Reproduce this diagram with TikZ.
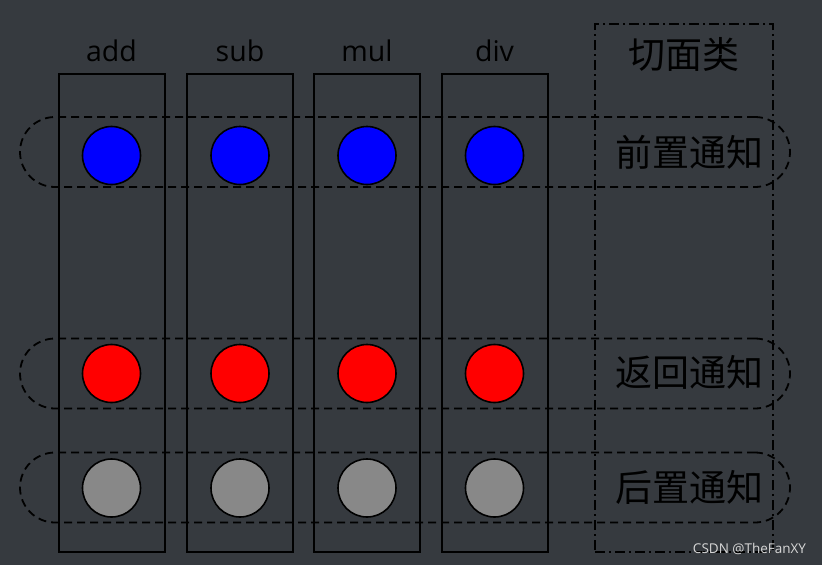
\documentclass[tikz,border=0pt]{standalone}
\usepackage{fontspec}
\setmainfont{Open Sans}
\newfontfamily\cjk{Noto Sans CJK SC}
\definecolor{bgcol}{RGB}{54,58,63}
\definecolor{dotgray}{RGB}{136,136,136}
\definecolor{markcol}{RGB}{215,215,215}
\tikzset{
	column/.style={draw=black,line width=2pt,minimum width=106pt,minimum height=478pt,inner sep=0pt},
	band/.style={draw=black,line width=1.8pt,dash pattern=on 8pt off 5pt,rounded corners=35pt,minimum width=770pt,minimum height=70pt,inner sep=0pt},
	joinpt/.style={circle,draw=black,line width=1.6pt,minimum size=58pt,inner sep=0pt},
	colname/.style={anchor=base,font=\fontsize{28.5}{28.5}\selectfont},
	advname/.style={font=\cjk\fontsize{37}{37}\selectfont}
}
\begin{document}
\begin{tikzpicture}[x=1pt,y=-1pt]
		\useasboundingbox[fill=bgcol] (0,0) rectangle (822,565);
		% aspect class
		\node[draw=black,line width=1.8pt,dash pattern=on 10pt off 4pt on 2pt off 4pt,minimum width=178pt,minimum height=528pt,inner sep=0pt] (aspect) at (684,288) {};
		\node[advname] (aspectname) at (684,54) {切面类};
		% target methods
		\foreach \name/\x in {add/111.5,sub/240,mul/367,div/494.5} {
			\node[column] (col-\name) at (\x,313) {};
			\node[colname] (lbl-\name) at (\x,61) {\name};
			\node[joinpt,fill=blue] (before-\name) at (\x,155.5) {};
			\node[joinpt,fill=red] (return-\name) at (\x,373.5) {};
			\node[joinpt,fill=dotgray] (after-\name) at (\x,488) {};
		}
		% advices
		\node[band] (before) at (405,152) {};
		\node[band] (return) at (405,373.5) {};
		\node[band] (after) at (405,487.5) {};
		\node[advname] (beforename) at (689,152) {前置通知};
		\node[advname] (returnname) at (689,372) {返回通知};
		\node[advname] (aftername) at (689,487) {后置通知};
		\node[text=markcol,font=\fontsize{13.5}{13.5}\selectfont] (mark) at (749.5,549) {CSDN @TheFanXY};
	\end{tikzpicture}
\end{document}
